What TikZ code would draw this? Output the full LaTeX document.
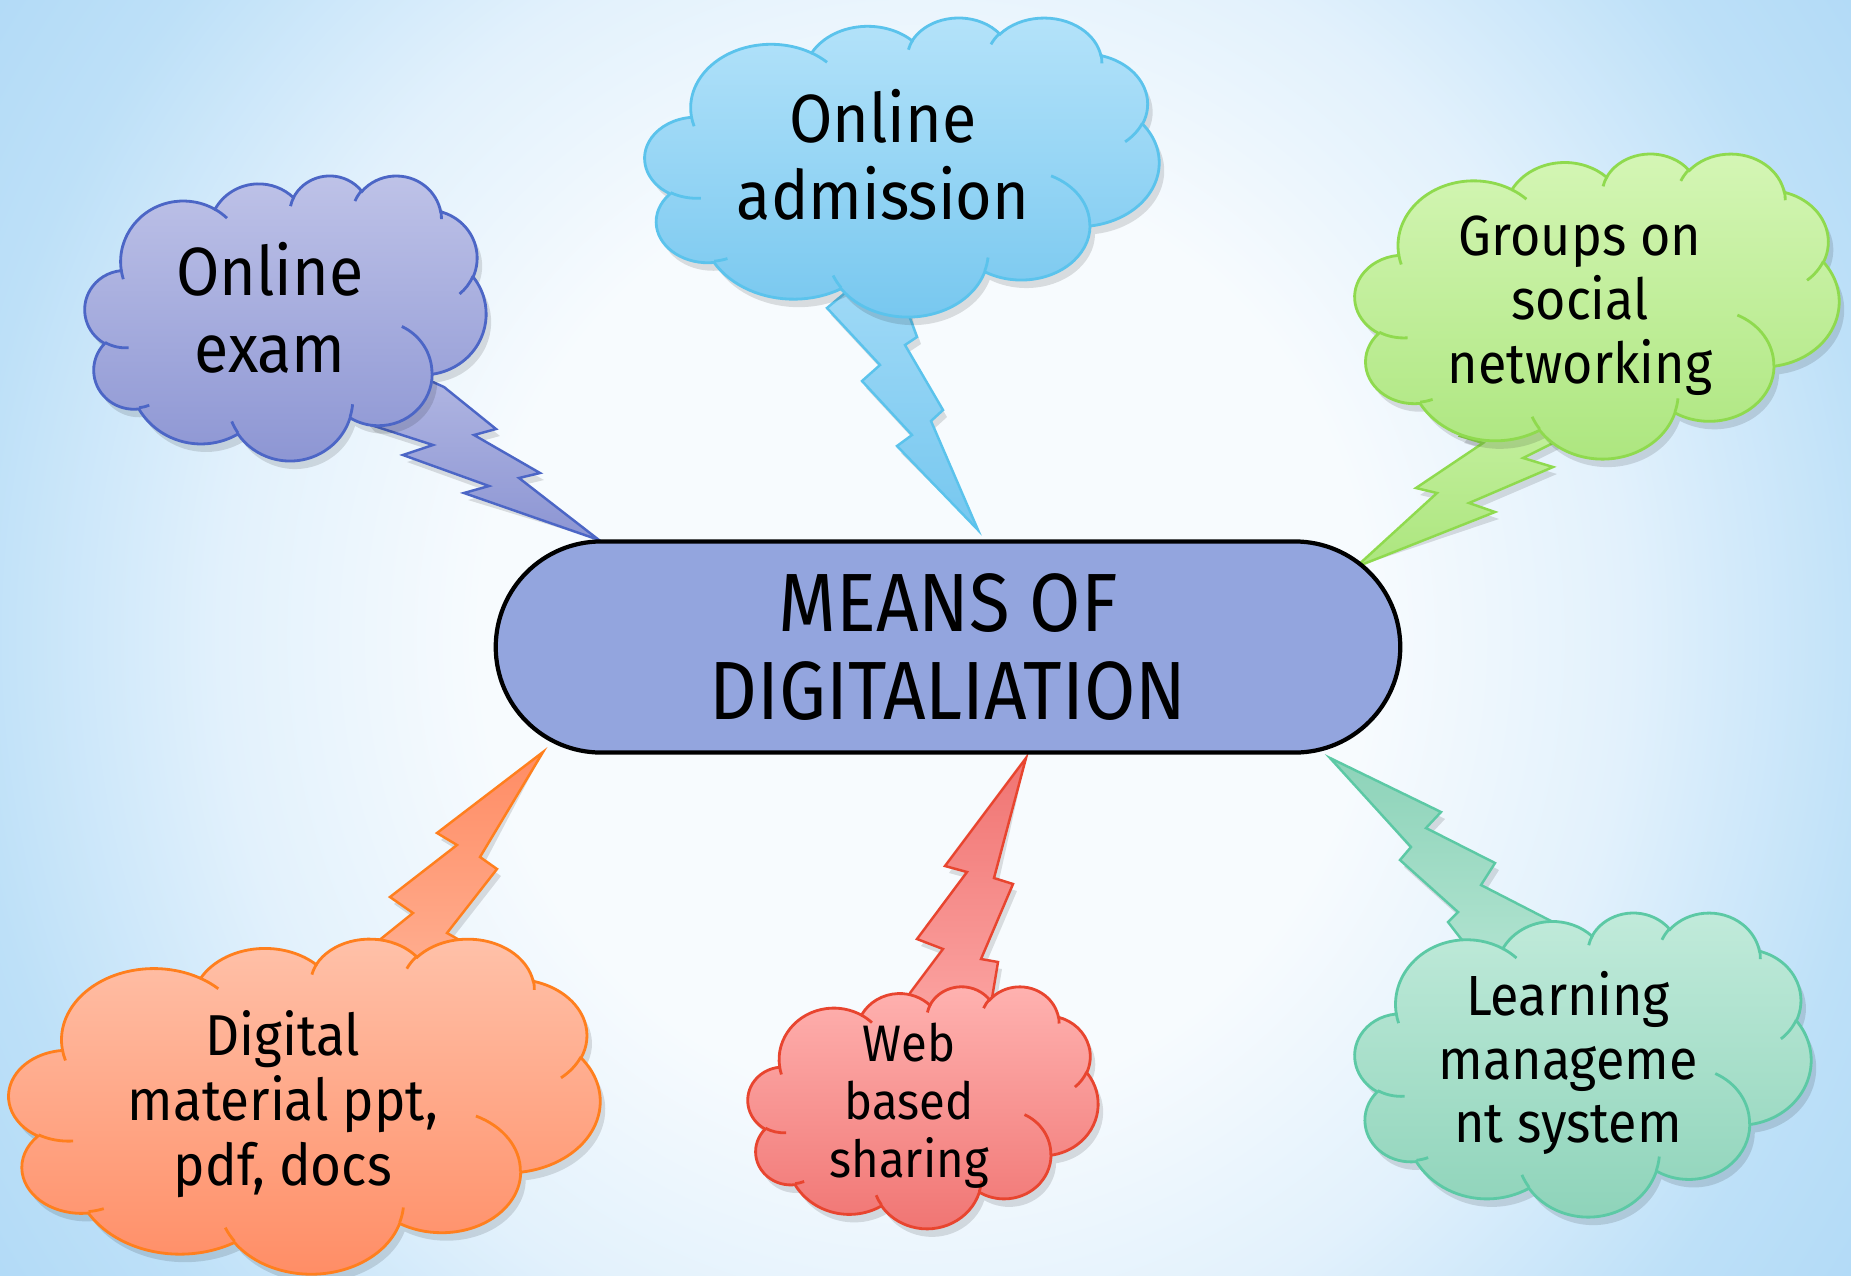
\documentclass[tikz,border=0pt]{standalone}
\usepackage{fontspec}
\setmainfont{Fira Sans}
\newfontfamily\cloudfont[FakeStretch=0.92]{Fira Sans}
\newfontfamily\hubfont[FakeStretch=0.9]{Fira Sans}
\usetikzlibrary{shapes.misc}

\definecolor{bgmid}{HTML}{F7FBFE}
\definecolor{bgsoft}{HTML}{E2F1FC}
\definecolor{bgedge}{HTML}{BDE0F8}
\definecolor{bgdeep}{HTML}{A6D4F5}
\definecolor{hubfill}{HTML}{93A5DE}
\definecolor{examtop}{HTML}{BFC3E8}
\definecolor{exambot}{HTML}{8C95D3}
\definecolor{examline}{HTML}{4C66C6}
\definecolor{admtop}{HTML}{B5E3FA}
\definecolor{admbot}{HTML}{76C7EF}
\definecolor{admline}{HTML}{5BC3EC}
\definecolor{grptop}{HTML}{D5F6B6}
\definecolor{grpbot}{HTML}{ACE67E}
\definecolor{grpline}{HTML}{8FDA4E}
\definecolor{digtop}{HTML}{FFC2AA}
\definecolor{digbot}{HTML}{FF8C64}
\definecolor{digline}{HTML}{FF7F1E}
\definecolor{webtop}{HTML}{FFB3B1}
\definecolor{webbot}{HTML}{F07472}
\definecolor{webline}{HTML}{E8452F}
\definecolor{lmstop}{HTML}{C2EBDB}
\definecolor{lmsbot}{HTML}{8DD3B9}
\definecolor{lmsline}{HTML}{5CC9A5}

\pgfdeclarelayer{backdrop}
\pgfdeclarelayer{bolts}
\pgfdeclarelayer{clouds}
\pgfsetlayers{backdrop,bolts,clouds,main}

\pgfdeclareradialshading{backdrop}{\pgfpoint{0bp}{0bp}}{color(0bp)=(bgmid); color(12bp)=(bgmid); color(19bp)=(bgsoft); color(26bp)=(bgedge); color(35bp)=(bgdeep); color(60bp)=(bgdeep)}

% cloud outline, drawn in a 43.2 x 43.2 box with y pointing down
\def\cloudpath{(3.9,14.37)
  arc[start angle=-187.75, delta angle=128.11, x radius=6.753, y radius=9.19]
  arc[start angle=-152.02, delta angle=106.57, x radius=5.333, y radius=7.267]
  arc[start angle=-153.49, delta angle=116.16, x radius=4.365, y radius=5.945]
  arc[start angle=-139.72, delta angle=129.5, x radius=4.857, y radius=6.595]
  arc[start angle=-74.77, delta angle=97.98, x radius=5.333, y radius=7.273]
  arc[start angle=-37.53, delta angle=119.39, x radius=6.775, y radius=9.22]
  arc[start angle=0.46, delta angle=121.52, x radius=5.785, y radius=7.867]
  arc[start angle=16.84, delta angle=129.4, x radius=6.752, y radius=9.215]
  arc[start angle=58.98, delta angle=91.21, x radius=7.72, y radius=10.543]
  arc[start angle=83.31, delta angle=139.81, x radius=4.36, y radius=5.918]
  arc[start angle=120.36, delta angle=143.75, x radius=4.345, y radius=5.945] -- cycle}
% the little inner strokes between the puffs
\def\cloudcreases{
  (4.693,26.177) arc[start angle=85.54, delta angle=34.82, x radius=4.345, y radius=5.945]
  (6.928,34.899) arc[start angle=68.24, delta angle=15.07, x radius=4.36, y radius=5.918]
  (16.478,39.09) arc[start angle=146.24, delta angle=12.23, x radius=6.752, y radius=9.215]
  (28.827,34.751) arc[start angle=4.74, delta angle=12.1, x radius=6.752, y radius=9.215]
  (34.129,22.954) arc[start angle=-64.03, delta angle=64.49, x radius=5.785, y radius=7.867]
  (41.798,15.354) arc[start angle=23.21, delta angle=26.43, x radius=5.333, y radius=7.273]
  (38.324,5.426) arc[start angle=-10.22, delta angle=11.04, x radius=4.857, y radius=6.595]
  (29.078,3.952) arc[start angle=-156.3, delta angle=16.58, x radius=4.857, y radius=6.595]
  (22.141,4.72) arc[start angle=-167.72, delta angle=14.23, x radius=4.365, y radius=5.945]
  (14.0,5.192) arc[start angle=-59.64, delta angle=13.9, x radius=6.753, y radius=9.19]
  (4.127,15.789) arc[start angle=163.19, delta angle=9.06, x radius=6.753, y radius=9.19]}

% #1,#2 top left corner, #3 width, #4 height, #5 top, #6 bottom, #7 line
\newcommand\pptcloud[7]{%
  \begin{scope}[shift={(#1+5,#2+8)}, xscale=#3/43.2, yscale=#4/43.2]
    \fill[black, opacity=.12] \cloudpath;
  \end{scope}
  \begin{scope}[shift={(#1,#2)}, xscale=#3/43.2, yscale=#4/43.2]
    \path[draw=#7, line width=.8pt, top color=#5, bottom color=#6] \cloudpath;
    \draw[#7, line width=.8pt] \cloudcreases;
  \end{scope}}

\newcommand\boltshape[2]{%
  \begin{scope}[shift={(4,7)}]
    \fill[black, opacity=.12] #2;
  \end{scope}
  \draw[#1] #2;}

\tikzset{
  hub/.style={rounded rectangle, draw=black, line width=1.2pt, fill=hubfill,
    minimum width=9.04cm, minimum height=2.11cm, inner sep=0pt, align=center,
    font=\hubfont\fontsize{23.5}{24.9}\selectfont},
  cloudtext/.style 2 args={align=center, inner sep=0pt,
    font=\cloudfont\fontsize{#1}{#2}\selectfont},
  bolt/.style n args={3}{draw=#3, line width=.7pt, top color=#1, bottom color=#2}
}

\begin{document}
\begin{tikzpicture}[x=0.01cm, y=0.01cm, yscale=-1]
\useasboundingbox (0,0) rectangle (1851,1275);
\begin{pgfonlayer}{backdrop}
  \begin{scope}
    \clip (0,0) rectangle (1851,1275);
    \shade[shading=backdrop] (0,-330) rectangle (1851,1605);
  \end{scope}
\end{pgfonlayer}

% centre and the six ideas
\node[hub] (hub) at (948,647) {MEANS OF\\DIGITALIATION};
\node[cloudtext={19.4}{21.9}] (exam) at (270,308) {Online\\exam};
\node[cloudtext={19.4}{21.9}] (adm) at (883,155) {Online\\admission};
\node[cloudtext={16.1}{18.2}] (grp) at (1580,306) {Groups on\\social\\networking};
\node[cloudtext={16.4}{18.5}] (dig) at (283,1104) {Digital\\material ppt,\\pdf, docs};
\node[cloudtext={14.6}{16.5}] (web) at (909,1106) {Web\\based\\sharing};
\node[cloudtext={16.1}{18.1}] (lms) at (1568,1063) {Learning\\manageme\\nt system};

\coordinate (tipexam) at (599,540);
\coordinate (tipadm) at (978,530);
\coordinate (tipgrp) at (1356,567);
\coordinate (tipdig) at (543,752);
\coordinate (tipweb) at (1026,758);
\coordinate (tiplms) at (1330,758);

\begin{pgfonlayer}{clouds}
  \pptcloud{85}{175}{401}{285}{examtop}{exambot}{examline}
  \pptcloud{645}{17}{514}{299}{admtop}{admbot}{admline}
  \pptcloud{1355}{153}{484}{305}{grptop}{grpbot}{grpline}
  \pptcloud{9}{938}{591}{335}{digtop}{digbot}{digline}
  \pptcloud{748}{986}{350}{242}{webtop}{webbot}{webline}
  \pptcloud{1355}{912}{456}{304}{lmstop}{lmsbot}{lmsline}
\end{pgfonlayer}

% lightning bolts from each cloud to the centre
\begin{pgfonlayer}{bolts}
  \boltshape{bolt={examtop}{exambot}{examline}}{(exam.center) -- (371,425) -- (433,445) -- (403,455) -- (489,486) -- (464,493) -- (tipexam) -- (519,478) -- (540,473) -- (474,435) -- (496,429) -- (444,387) -- cycle}
  \boltshape{bolt={admtop}{admbot}{admline}}{(adm.center) -- (845,293) -- (827,308) -- (880,365) -- (862,381) -- (912,435) -- (897,446) -- (tipadm) -- (931,421) -- (943,410) -- (905,345) -- (917,337) -- (910,318) -- cycle}
  \boltshape{bolt={grptop}{grpbot}{grpline}}{(grp.center) -- (1460,436) -- (1483,443) -- (1416,488) -- (1437,493) -- (tipgrp) -- (1495,512) -- (1469,503) -- (1553,467) -- (1523,458) -- (1555,442) -- cycle}
  \boltshape{bolt={digbot}{digtop}{digline}}{(dig.center) -- (377,942) -- (413,913) -- (390,897) -- (457,845) -- (437,833) -- (tipdig) -- (480,857) -- (497,869) -- (447,933) -- (463,942) -- cycle}
  \boltshape{bolt={webbot}{webtop}{webline}}{(web.center) -- (910,993) -- (943,949) -- (917,939) -- (967,872) -- (945,866) -- (tipweb) -- (994,878) -- (1013,884) -- (981,959) -- (998,962) -- (992,998) -- cycle}
  \boltshape{bolt={lmsbot}{lmstop}{lmsline}}{(lms.center) -- (1553,922) -- (1481,885) -- (1495,863) -- (1426,828) -- (1441,812) -- (tiplms) -- (1411,847) -- (1400,860) -- (1458,912) -- (1448,922) -- (1462,940) -- cycle}
\end{pgfonlayer}
\end{tikzpicture}
\end{document}
